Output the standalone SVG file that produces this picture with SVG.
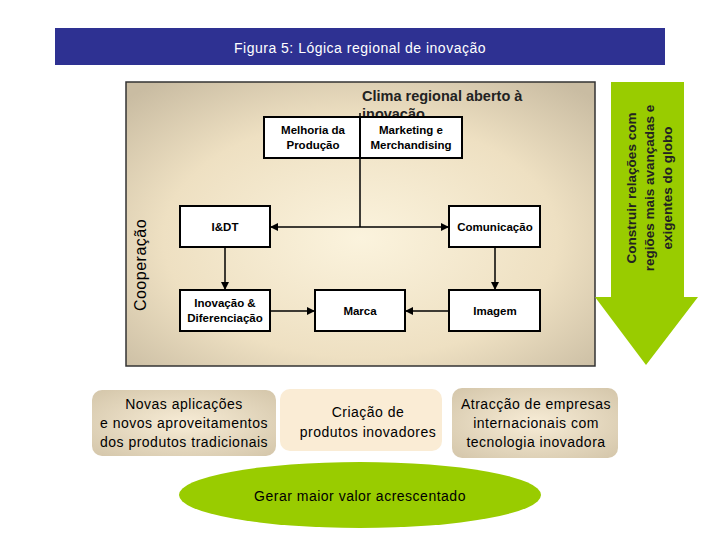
<svg xmlns="http://www.w3.org/2000/svg" width="720" height="540" viewBox="0 0 720 540">
<defs>
<radialGradient id="bg" cx="0.5" cy="0.55" r="0.7"><stop offset="0" stop-color="#fbf3dd"/><stop offset="0.6" stop-color="#eee0c2"/><stop offset="1" stop-color="#c9bca2"/></radialGradient>
<radialGradient id="tag" cx="0.5" cy="0.5" r="0.7"><stop offset="0" stop-color="#f7ecd6"/><stop offset="1" stop-color="#d4c6aa"/></radialGradient>
<marker id="ar" markerWidth="8" markerHeight="8" refX="7" refY="4" orient="auto" markerUnits="userSpaceOnUse"><path d="M0,0 L8,4 L0,8 z" fill="#000"/></marker>
<style>
.b{fill:#fff;stroke:#000;stroke-width:2}
.t{font-family:"Liberation Sans",Arial,sans-serif;font-size:11.5px;font-weight:bold;text-anchor:middle}
.l{font-family:"Liberation Sans",Arial,sans-serif;font-size:14px;text-anchor:middle;letter-spacing:0.5px}
.c{stroke:#000;stroke-width:1.5;fill:none;marker-end:url(#ar)}
</style>
</defs>
<rect width="720" height="540" fill="#fff"/>
<g id="title"><rect x="55" y="28" width="610" height="37" fill="#2e3192"/><text x="360" y="53" class="l" fill="#fff" style="font-size:14px">Figura 5: Lógica regional de inovação</text></g>
<g id="frame"><rect x="126" y="82" width="469" height="284" fill="url(#bg)" stroke="#333" stroke-width="1.5"/>
<text x="146" y="265" class="l" transform="rotate(-90 146 265)" style="font-size:16px">Cooperação</text>
<text x="362" y="101" font-family="Liberation Sans,Arial,sans-serif" font-size="14.5" font-weight="bold" fill="#222">Clima regional aberto à</text>
<text x="362" y="119" font-family="Liberation Sans,Arial,sans-serif" font-size="14.5" font-weight="bold" fill="#222">inovação</text></g>
<g id="connectors">
<line x1="360" y1="113" x2="360" y2="227" stroke="#000" stroke-width="1.5"/>
<line x1="360" y1="227" x2="271" y2="227" class="c"/>
<line x1="360" y1="227" x2="448" y2="227" class="c"/>
<line x1="225" y1="248" x2="225" y2="289" class="c"/>
<line x1="495" y1="248" x2="495" y2="289" class="c"/>
<line x1="271" y1="311" x2="314" y2="311" class="c"/>
<line x1="449" y1="311" x2="406" y2="311" class="c"/>
</g>
<g id="melhoria"><rect x="264" y="117" width="96" height="41" class="b"/><text class="t" x="313" y="134">Melhoria da</text><text class="t" x="313" y="149">Produção</text></g>
<g id="marketing"><rect x="360" y="117" width="102" height="41" class="b"/><text class="t" x="411" y="134">Marketing e</text><text class="t" x="411" y="149">Merchandising</text></g>
<g id="idt"><rect x="180" y="206" width="90" height="41" class="b"/><text class="t" x="225" y="231">I&amp;DT</text></g>
<g id="comunicacao"><rect x="449" y="206" width="91" height="41" class="b"/><text class="t" x="495" y="231">Comunicação</text></g>
<g id="inovacao"><rect x="180" y="290" width="90" height="41" class="b"/><text class="t" x="225" y="307">Inovação &amp;</text><text class="t" x="225" y="322">Diferenciação</text></g>
<g id="marca"><rect x="315" y="290" width="90" height="41" class="b"/><text class="t" x="360" y="315">Marca</text></g>
<g id="imagem"><rect x="449" y="290" width="91" height="41" class="b"/><text class="t" x="495" y="315">Imagem</text></g>
<g id="arrow"><path d="M611,82 L684,82 L684,297 L698,297 L646,365 L595,297 L611,297 Z" fill="#99cc00"/>
<g font-family="Liberation Sans,Arial,sans-serif" font-size="13.5" font-weight="bold" fill="#222" text-anchor="middle">
<text transform="translate(636,188) rotate(-90)">Construir relações com</text>
<text transform="translate(654,188) rotate(-90)">regiões mais avançadas e</text>
<text transform="translate(672,188) rotate(-90)">exigentes do globo</text></g></g>
<g id="novas"><rect x="92" y="390" width="184" height="66" rx="10" fill="url(#tag)"/><text class="l" x="184" y="409">Novas aplicações</text><text class="l" x="184" y="428">e novos aproveitamentos</text><text class="l" x="184" y="447">dos produtos tradicionais</text></g>
<g id="criacao"><rect x="280" y="389" width="162" height="62" rx="10" fill="#faecd5"/><text class="l" x="368" y="417">Criação de</text><text class="l" x="368" y="437">produtos inovadores</text></g>
<g id="atraccao"><rect x="452" y="388" width="166" height="70" rx="10" fill="url(#tag)"/><text class="l" x="536" y="409">Atracção de empresas</text><text class="l" x="536" y="428">internacionais com</text><text class="l" x="536" y="447">tecnologia inovadora</text></g>
<g id="gerar"><ellipse cx="360" cy="495" rx="181" ry="33" fill="#99cc00"/><text class="l" x="360" y="501">Gerar maior valor acrescentado</text></g>
</svg>
